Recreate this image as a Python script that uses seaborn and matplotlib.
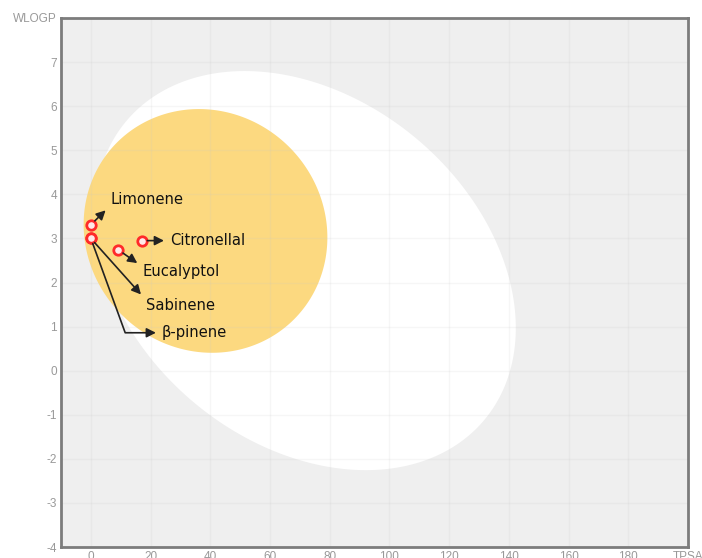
import numpy as np
import pandas as pd
import matplotlib
matplotlib.use("Agg")
import matplotlib.pyplot as plt
import seaborn as sns

# Compounds: TPSA (x) and WLOGP (y)
compounds = ["Limonene", "Citronellal", "Eucalyptol", "Sabinene", "β-pinene"]
tpsa = [0.0, 17.07, 9.23, 0.0, 0.0]
wlogp = [3.31, 2.95, 2.74, 3.00, 3.00]

# Axis ticks
x_ticks = [0, 20, 40, 60, 80, 100, 120, 140, 160, 180, 200]
x_tick_labels = ["0", "20", "40", "60", "80", "100", "120", "140", "160", "180", "TPSA"]
y_ticks = [-4, -3, -2, -1, 0, 1, 2, 3, 4, 5, 6, 7, 8]
y_tick_labels = ["-4", "-3", "-2", "-1", "0", "1", "2", "3", "4", "5", "6", "7", "WLOGP"]

# Egg regions: centre (TPSA, WLOGP), semi-axes (in TPSA units), tilt (deg)
white_center = [71.8, 2.27]
white_axes = [78.1, 57.8]
white_angle = -39.7
yolk_center = [38.4, 3.17]
yolk_axes = [41.9, 39.7]
yolk_angle = -45.0

# Label placement (text anchor in data coords) and arrow routing
label_pos = {
    "Limonene": (6.7, 3.89, (0.0, 0.1), "arc3"),
    "Citronellal": (26.5, 2.95, (0.0, 0.5), "arc3"),
    "Eucalyptol": (17.4, 2.25, (0.0, 0.8), "arc3"),
    "Sabinene": (18.5, 1.48, (0.0, 0.85), "arc3"),
    "β-pinene": (23.8, 0.86, (0.0, 0.5), "angle,angleA=0,angleB=-70,rad=0"),
}

sns.set_style("white")
plt.rcParams["font.family"] = ["DejaVu Sans"]

fig = plt.figure(figsize=(7.02, 5.58), dpi=100)
ax = fig.add_axes([61 / 702, 1 - 547 / 558, (688 - 61) / 702, (547 - 18) / 558])
ax.set_facecolor("#efefef")

xlim = (-10, 200)
ylim = (-4, 8)
ax.set_xlim(*xlim)
ax.set_ylim(*ylim)

# WLOGP units are stretched relative to TPSA units in the display
k = (529 / (ylim[1] - ylim[0])) / (627 / (xlim[1] - xlim[0]))


def ellipse_xy(center, axes, angle_deg, n=500):
    t = np.linspace(0, 2 * np.pi, n)
    th = np.deg2rad(angle_deg)
    a, b = axes
    u = a * np.cos(t) * np.cos(th) - b * np.sin(t) * np.sin(th)
    v = a * np.cos(t) * np.sin(th) + b * np.sin(t) * np.cos(th)
    return center[0] + u, center[1] + v / k


wx, wy = ellipse_xy(white_center, white_axes, white_angle)
ax.fill(wx, wy, color="#ffffff", lw=0, zorder=1)
yx, yy = ellipse_xy(yolk_center, yolk_axes, yolk_angle)
ax.fill(yx, yy, color="#fcd980", lw=0, zorder=1.1)

# Grid over the egg
ax.set_xticks(x_ticks)
ax.set_xticklabels(x_tick_labels)
ax.set_yticks(y_ticks)
ax.set_yticklabels(y_tick_labels)
ax.set_axisbelow(False)
ax.grid(True, color="#c8c8c8", alpha=0.16, lw=1.0)
ax.tick_params(length=0, labelsize=8.5, labelcolor="#999999", pad=3)
for lab in ax.get_xticklabels() + ax.get_yticklabels():
    lab.set_fontfamily("Liberation Sans")

for s in ax.spines.values():
    s.set_visible(True)
    s.set_color("#7c7c7c")
    s.set_linewidth(2.0)
    s.set_zorder(10)

df = pd.DataFrame({"TPSA": tpsa, "WLOGP": wlogp, "name": compounds})
sns.scatterplot(data=df, x="TPSA", y="WLOGP", ax=ax, s=46,
                color="#ffe8e8", edgecolor="#ff2a2a", linewidth=2.0,
                zorder=5, legend=False)
ax.set_xlabel("")
ax.set_ylabel("")

for name, x, y in zip(compounds, tpsa, wlogp):
    tx, ty, rel, conn = label_pos[name]
    ax.annotate(name, xy=(x, y), xytext=(tx, ty), ha="left", va="center",
                fontsize=10.6, color="#111111", zorder=6,
                arrowprops=dict(arrowstyle="<|-,head_length=0.55,head_width=0.28",
                                color="#222222", lw=1.2, relpos=rel,
                                shrinkA=2, shrinkB=4, connectionstyle=conn,
                                mutation_scale=10))

fig.savefig("out.png", dpi=100)
